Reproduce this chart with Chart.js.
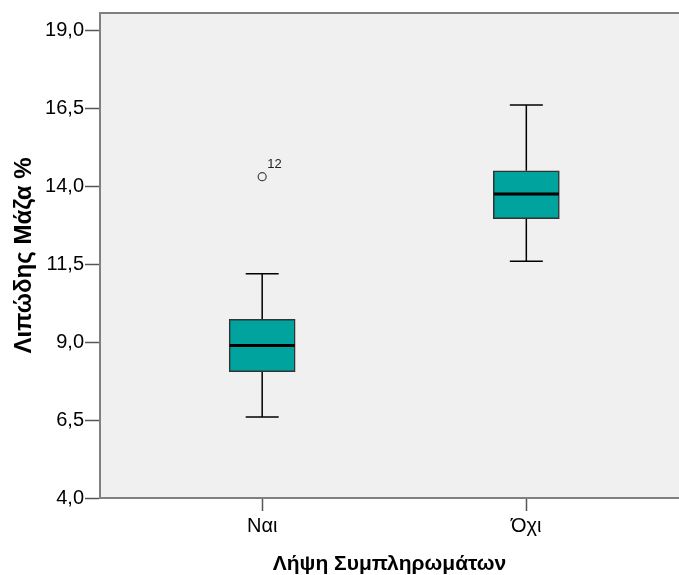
<!DOCTYPE html>
<html>
<head>
<meta charset="utf-8">
<script src="https://cdn.jsdelivr.net/npm/chart.js@4.4.1/dist/chart.umd.min.js"></script>
<style>
  html, body { margin: 0; padding: 0; background: #ffffff; overflow: hidden; }
  #wrap { width: 679px; height: 575px; }
</style>
</head>
<body>
<div id="wrap"><canvas id="c" width="679" height="575"></canvas></div>
<script>
// ---- data ----
const categories   = ['Ναι', 'Όχι'];
const whiskerLow   = [6.60, 11.59];
const q1Values     = [8.05, 12.95];
const medianValues = [8.89, 13.74];
const q3Values     = [9.73, 14.49];
const whiskerHigh  = [11.19, 16.60];
const outlierCategory = [0];
const outlierValues   = [14.30];
const outlierLabels   = ['12'];
const yTicks = [4.0, 6.5, 9.0, 11.5, 14.0, 16.5, 19.0];
const yTitle = 'Λιπώδης Μάζα %';
const xTitle = 'Λήψη Συμπληρωμάτων';

const FONT = "'Liberation Sans', Arial, sans-serif";
const AXIS_GREY = '#808080';

const boxData = categories.map((c, i) => ({ x: i, y: [q1Values[i], q3Values[i]] }));
const outlierData = outlierValues.map((v, i) => ({ x: outlierCategory[i], y: v }));

const boxPlugin = {
  id: 'boxExtras',
  beforeDraw(chart) {
    const { ctx, chartArea: a } = chart;
    ctx.save();
    ctx.fillStyle = '#f0f0f0';
    ctx.fillRect(a.left, a.top, chart.width - a.left, a.bottom - a.top);
    ctx.strokeStyle = AXIS_GREY;
    ctx.lineWidth = 2;
    ctx.beginPath();
    ctx.moveTo(a.left, a.top);
    ctx.lineTo(chart.width, a.top);
    ctx.stroke();
    ctx.restore();
  },
  beforeDatasetsDraw(chart) {
    const { ctx, scales: { x, y } } = chart;
    ctx.save();
    ctx.strokeStyle = '#000';
    ctx.lineWidth = 1.5;
    categories.forEach((c, i) => {
      const cx = x.getPixelForValue(i);
      const capHalf = 16.5;
      const yh = y.getPixelForValue(whiskerHigh[i]);
      const yl = y.getPixelForValue(whiskerLow[i]);
      ctx.beginPath();
      ctx.moveTo(cx, y.getPixelForValue(q3Values[i]));
      ctx.lineTo(cx, yh);
      ctx.moveTo(cx, y.getPixelForValue(q1Values[i]));
      ctx.lineTo(cx, yl);
      ctx.moveTo(cx - capHalf, yh); ctx.lineTo(cx + capHalf, yh);
      ctx.moveTo(cx - capHalf, yl); ctx.lineTo(cx + capHalf, yl);
      ctx.stroke();
    });
    ctx.restore();
  },
  afterDatasetsDraw(chart) {
    const { ctx, scales: { x, y } } = chart;
    ctx.save();
    ctx.strokeStyle = '#000';
    ctx.lineWidth = 3;
    categories.forEach((c, i) => {
      const cx = x.getPixelForValue(i);
      const my = y.getPixelForValue(medianValues[i]);
      ctx.beginPath();
      ctx.moveTo(cx - 32.5, my);
      ctx.lineTo(cx + 32.5, my);
      ctx.stroke();
    });
    ctx.fillStyle = '#222';
    ctx.font = '13px ' + FONT;
    ctx.textAlign = 'left';
    ctx.textBaseline = 'middle';
    outlierValues.forEach((v, i) => {
      const px = x.getPixelForValue(outlierCategory[i]);
      const py = y.getPixelForValue(v);
      ctx.fillText(outlierLabels[i], px + 5, py - 12);
    });
    ctx.restore();
  }
};

new Chart(document.getElementById('c'), {
  type: 'bar',
  data: {
    datasets: [
      {
        type: 'bar',
        data: boxData,
        backgroundColor: '#00a39d',
        borderColor: '#333333',
        borderWidth: 1.5,
        borderSkipped: false,
        barThickness: 66,
        order: 2
      },
      {
        type: 'scatter',
        data: outlierData,
        pointStyle: 'circle',
        pointRadius: 4,
        pointBorderWidth: 1.2,
        pointBorderColor: '#444444',
        pointBackgroundColor: 'rgba(0,0,0,0)',
        order: 1
      }
    ]
  },
  options: {
    responsive: false,
    animation: false,
    events: [],
    layout: { autoPadding: false, padding: { left: 0, right: 0, top: 13, bottom: 0 } },
    plugins: { legend: { display: false }, tooltip: { enabled: false } },
    scales: {
      x: {
        type: 'linear',
        offset: false,
        min: -0.614,
        max: 1.578,
        afterBuildTicks(scale) { scale.ticks = categories.map((c, i) => ({ value: i })); },
        afterFit(scale) { scale.height = 77; },
        grid: { offset: false, drawOnChartArea: false, drawTicks: true, tickLength: 13, tickColor: '#555', tickWidth: 1.5 },
        border: { display: true, color: AXIS_GREY, width: 2 },
        ticks: {
          autoSkip: false,
          maxRotation: 0,
          padding: 3,
          color: '#000',
          font: { family: FONT, size: 20 },
          callback: (v) => categories[v] ?? ''
        },
        title: {
          display: true,
          text: xTitle,
          color: '#000',
          font: { family: FONT, size: 21, weight: 'bold', lineHeight: 1.0 },
          padding: { top: 0, bottom: 0 }
        }
      },
      y: {
        type: 'linear',
        min: 4.0,
        max: 19.545,
        afterBuildTicks(scale) { scale.ticks = yTicks.map(v => ({ value: v })); },
        afterFit(scale) { scale.width = 100; },
        grid: { drawOnChartArea: false, drawTicks: true, tickLength: 15, tickColor: '#555', tickWidth: 1.5 },
        border: { display: true, color: AXIS_GREY, width: 2 },
        ticks: {
          padding: 1,
          color: '#000',
          font: { family: FONT, size: 20 },
          callback: (v) => Number(v).toFixed(1).replace('.', ',')
        },
        title: {
          display: true,
          text: yTitle,
          color: '#000',
          font: { family: FONT, size: 24, weight: 'bold', lineHeight: 1.2 },
          padding: { top: 10, bottom: 0 }
        }
      }
    }
  },
  plugins: [boxPlugin]
});
</script>
</body>
</html>
